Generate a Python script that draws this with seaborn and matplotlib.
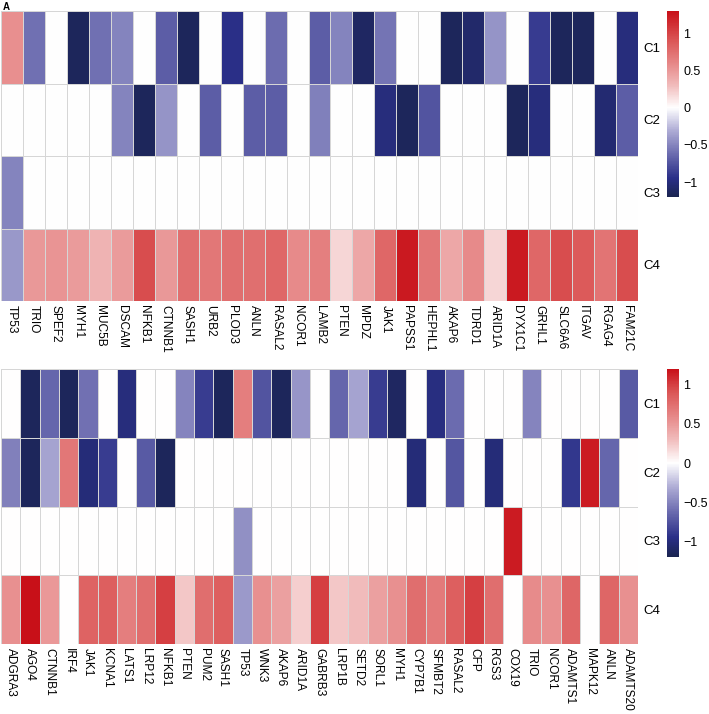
import numpy as np
import pandas as pd
import matplotlib
matplotlib.use("Agg")
import matplotlib.pyplot as plt
import seaborn as sns
from matplotlib.colors import LinearSegmentedColormap

# panel A, upper block
genes_top = ["TP53", "TRIO", "SPEF2", "MYH1", "MUC5B", "DSCAM", "NFKB1", "CTNNB1",
             "SASH1", "URB2", "PLOD3", "ANLN", "RASAL2", "NCOR1", "LAMB2", "PTEN",
             "MPDZ", "JAK1", "PAPSS1", "HEPHL1", "AKAP6", "TDRD1", "ARID1A", "DYX1C1",
             "GRHL1", "SLC6A6", "ITGAV", "RGAG4", "FAM21C"]
c1_top = [0.55, -0.6, 0, -1.15, -0.6, -0.5, 0, -0.7, -1.15, 0, -0.95, 0, -0.62, 0, -0.7, -0.5,
          -1.12, -0.58, 0, 0, -1.15, -1.08, -0.42, 0, -0.88, -1.15, -1.15, 0, -1.0]
c2_top = [0, 0, 0, 0, 0, -0.5, -1.15, -0.42, 0, -0.7, 0, -0.7, -0.7, 0, -0.52, 0,
          0, -1.0, -1.15, -0.75, 0, 0, 0, -1.15, -1.0, 0, 0, -1.05, -0.7]
c3_top = [-0.5, 0, 0, 0, 0, 0, 0, 0, 0, 0, 0, 0, 0, 0, 0, 0,
          0, 0, 0, 0, 0, 0, 0, 0, 0, 0, 0, 0, 0]
c4_top = [-0.4, 0.5, 0.52, 0.48, 0.35, 0.48, 0.95, 0.5, 0.75, 0.7, 0.75, 0.75, 0.8, 0.58, 0.65, 0.18,
          0.42, 0.8, 1.25, 0.7, 0.42, 0.58, 0.18, 1.25, 0.8, 0.95, 0.88, 0.72, 0.95]

# lower block
genes_bot = ["ADGRA3", "AGO4", "CTNNB1", "IRF4", "JAK1", "KCNA1", "LATS1", "LRP12", "NFKB1",
             "PTEN", "PUM2", "SASH1", "TP53", "WNK3", "AKAP6", "ARID1A", "GABRB3", "LRP1B",
             "SETD2", "SORL1", "MYH1", "CYP7B1", "SFMBT2", "RASAL2", "CFP", "RGS3", "COX19",
             "TRIO", "NCOR1", "ADAMTS1", "MAPK12", "ANLN", "ADAMTS20"]
c1_bot = [0, -1.15, -0.65, -1.15, -0.6, 0, -1.0, 0, 0, -0.5, -0.88, -1.15, 0.65, -0.75, -1.15, -0.42,
          0, -0.65, -0.35, -0.88, -1.12, 0, -0.98, -0.62, 0, 0, 0, -0.5, 0, 0, 0, 0, -0.72]
c2_bot = [-0.52, -1.15, -0.35, 0.7, -1.02, -0.88, 0, -0.72, -1.15, 0, 0, 0, 0, 0, 0, 0,
          0, 0, 0, 0, 0, -1.02, 0, -0.74, 0, -1.02, 0, 0, 0, -0.9, 1.15, -0.65, 0]
c3_bot = [0, 0, 0, 0, 0, 0, 0, 0, 0, 0, 0, 0, -0.45, 0, 0, 0,
          0, 0, 0, 0, 0, 0, 0, 0, 0, 0, 1.15, 0, 0, 0, 0, 0, 0]
c4_bot = [0.55, 1.2, 0.5, 0, 0.82, 0.85, 0.65, 0.75, 1.0, 0.25, 0.75, 0.85, -0.4, 0.55, 0.45, 0.22,
          1.0, 0.25, 0.3, 0.45, 0.55, 0.75, 0.68, 0.85, 1.0, 0.75, 0, 0.58, 0.55, 0.8, 0, 0.8, 0.55]

clusters = ["C1", "C2", "C3", "C4"]

# colour stops in value units
stop_vals = [-1.2, -0.95, -0.6, -0.3, 0.0, 0.3, 0.6, 0.9, 1.3]
stop_cols = ["#1a2450", "#2a2f88", "#7070b2", "#b0aed6", "#ffffff",
             "#f1bcbc", "#e68787", "#db5757", "#c81018"]


def make_cmap(vmin, vmax):
    pts = [((v - vmin) / (vmax - vmin), c) for v, c in zip(stop_vals, stop_cols)]
    pts = [(min(max(p, 0), 1), c) for p, c in pts]
    return LinearSegmentedColormap.from_list("nwr", pts)


plt.rcParams["font.family"] = ["Liberation Sans", "DejaVu Sans"]

fig = plt.figure(figsize=(7.09, 7.14), dpi=100)

blocks = [
    (genes_top, [c1_top, c2_top, c3_top, c4_top], -1.2, 1.3,
     [1/709, 1 - 301/714, 637/709, 290/714], [667/709, 1 - 197/714, 12/709, 186/714]),
    (genes_bot, [c1_bot, c2_bot, c3_bot, c4_bot], -1.2, 1.2,
     [1/709, 1 - 644/714, 637/709, 275/714], [667/709, 1 - 557/714, 12/709, 188/714]),
]

for genes, rows, vmin, vmax, ax_pos, cb_pos in blocks:
    df = pd.DataFrame(rows, index=clusters, columns=genes)
    ax = fig.add_axes(ax_pos)
    cax = fig.add_axes(cb_pos)
    sns.heatmap(df, ax=ax, cbar_ax=cax, cmap=make_cmap(vmin, vmax), vmin=vmin, vmax=vmax,
                linewidths=0.7, linecolor="#d6d6d6")
    ax.yaxis.tick_right()
    ax.tick_params(axis="y", length=0, pad=4)
    ax.tick_params(axis="x", length=0, pad=3)
    ax.set_yticklabels(clusters, rotation=0, fontsize=9.5)
    ax.set_xticklabels(genes, rotation=-90, ha="center", va="top", fontsize=8.6)
    ax.set_xlabel("")
    ax.set_ylabel("")
    cbar = ax.collections[0].colorbar
    cbar.outline.set_visible(False)
    cbar.set_ticks([-1, -0.5, 0, 0.5, 1])
    cbar.set_ticklabels(["\u22121", "\u22120.5", "0", "0.5", "1"])
    cax.tick_params(length=0, labelsize=9, pad=3)

fig.text(3/709, 1 - 2/714, "A", fontsize=7, fontweight="bold", ha="left", va="top")

fig.savefig("out.png", dpi=100)
